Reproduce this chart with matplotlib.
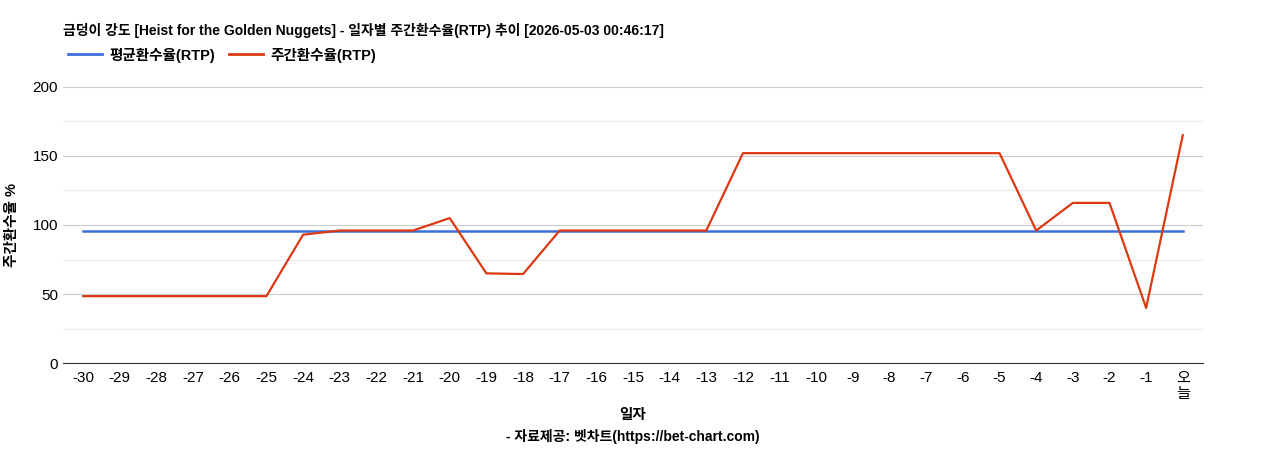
import matplotlib
matplotlib.use("Agg")
import matplotlib.pyplot as plt
from matplotlib.lines import Line2D

plt.rcParams['font.family'] = ['Liberation Sans', 'Noto Sans CJK KR', 'DejaVu Sans']

labels = [str(i) for i in range(-30, 0)] + ["오\n늘"]
weekly = [48.5, 48.5, 48.5, 48.5, 48.5, 48.5, 93, 96, 96, 96, 105, 65, 64.5, 96, 96, 96, 96, 96,
          152, 152, 152, 152, 152, 152, 152, 152, 96, 116, 116, 40, 165]
avg = [96] * 31

fig = plt.figure(figsize=(12.68, 4.5), dpi=100)
ax = fig.add_axes([0.0497, 0.193, 0.899, 0.614])
x = list(range(len(labels)))
ax.plot(x, avg, color='#3c6fdc', lw=1.8)
ax.plot(x, weekly, color='#dc3912', lw=1.6)
ax.set_xlim(-0.55, 30.55)
ax.set_ylim(0, 200)
ax.set_yticks([0, 50, 100, 150, 200])
ax.set_yticks([25, 75, 125, 175], minor=True)
ax.grid(axis='y', which='major', color='#cccccc', lw=0.8)
ax.grid(axis='y', which='minor', color='#ebebeb', lw=0.8)
ax.tick_params(axis='y', which='both', length=0, labelsize=11)
ax.set_xticks(x)
ax.set_xticklabels(labels, fontsize=11, linespacing=1.1)
ax.tick_params(axis='x', length=0, pad=6)
for s in ['top', 'right', 'left']:
    ax.spines[s].set_visible(False)
ax.spines['bottom'].set_color('#333333')
ax.set_axisbelow(True)
ax.set_ylabel('주간환수율 %', fontsize=10.5, fontweight='bold', labelpad=10)

fig.text(63/1268, 1-30/450, '금덩이 강도 [Heist for the Golden Nuggets] - 일자별 주간환수율(RTP) 추이 [2026-05-03 00:46:17]',
         fontsize=10, fontweight='bold', va='center', ha='left')
handles = [Line2D([], [], color='#3c6fdc', lw=2), Line2D([], [], color='#dc3912', lw=2)]
fig.legend(handles, ['평균환수율(RTP)', '주간환수율(RTP)'], loc='center left',
           bbox_to_anchor=(55/1268, 1-55/450), ncol=2, frameon=False,
           prop={'size': 10.5, 'weight': 'bold'}, handlelength=2.3, columnspacing=1.0,
           handletextpad=0.5)
fig.text(633/1268, 1-415/450, '일자', fontsize=10.5, fontweight='bold', ha='center', va='center')
fig.text(633/1268, 1-437/450, '- 자료제공: 벳차트(https://bet-chart.com)', fontsize=10,
         fontweight='bold', ha='center', va='center')
fig.savefig('out.png', dpi=100)
